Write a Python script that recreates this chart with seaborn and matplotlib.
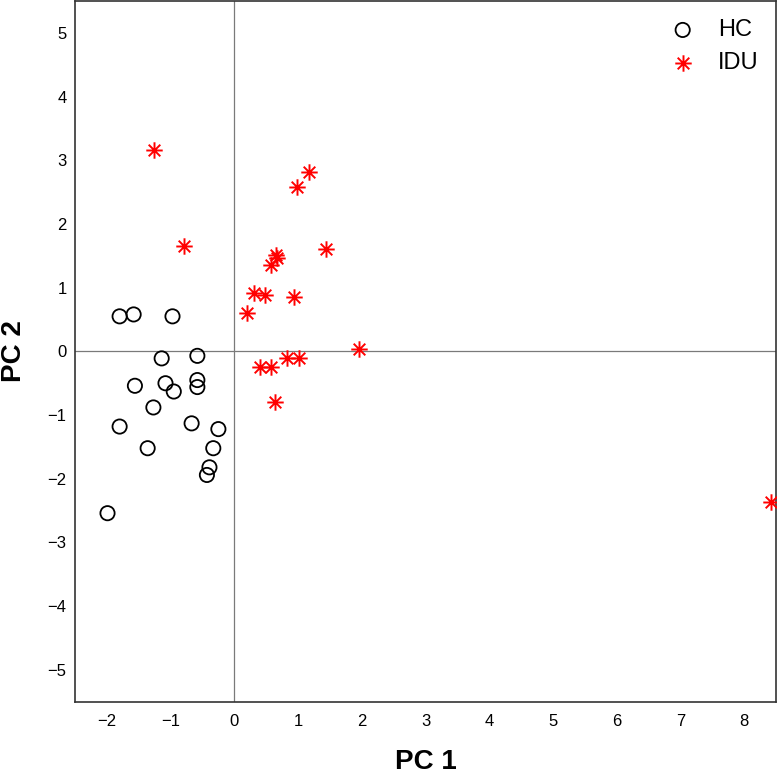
import numpy as np
import pandas as pd
import matplotlib
matplotlib.use("Agg")
import matplotlib.pyplot as plt
import seaborn as sns
from matplotlib.path import Path

# PCA scores
hc_pc1 = [-1.80, -1.58, -0.97, -1.14, -0.58, -1.56, -1.08, -0.95, -0.58, -0.58,
          -1.27, -1.80, -0.67, -0.25, -1.36, -0.33, -0.39, -0.43, -1.99]
hc_pc2 = [0.55, 0.58, 0.55, -0.11, -0.07, -0.54, -0.50, -0.63, -0.45, -0.56,
          -0.88, -1.18, -1.13, -1.22, -1.52, -1.52, -1.82, -1.94, -2.54]

idu_pc1 = [1.17, 0.98, 1.44, 0.66, 0.67, 0.58, 0.31, 0.48, 0.94, 0.20,
           1.96, 0.82, 1.02, 0.41, 0.58, 0.64, -1.26, -0.79, 8.42]
idu_pc2 = [2.81, 2.58, 1.60, 1.52, 1.47, 1.35, 0.92, 0.88, 0.86, 0.61,
           0.04, -0.11, -0.11, -0.25, -0.24, -0.79, 3.16, 1.65, -2.37]

x_ticks = [-2, -1, 0, 1, 2, 3, 4, 5, 6, 7, 8]
y_ticks = [-5, -4, -3, -2, -1, 0, 1, 2, 3, 4, 5]

hc = pd.DataFrame({"PC1": hc_pc1, "PC2": hc_pc2})
idu = pd.DataFrame({"PC1": idu_pc1, "PC2": idu_pc2})

sns.set_theme(style="white")
plt.rcParams['font.family'] = ['Liberation Sans', 'DejaVu Sans']
plt.rcParams['text.color'] = 'black'
plt.rcParams['axes.labelcolor'] = 'black'

# asterisk like R's pch=8 (plus + cross)
d = np.sqrt(0.5)
verts = [(0, -1), (0, 1), (-1, 0), (1, 0), (-d, -d), (d, d), (-d, d), (d, -d)]
codes = [Path.MOVETO, Path.LINETO] * 4
star = Path(verts, codes)

fig = plt.figure(figsize=(7.79, 7.78), dpi=100)
ax = fig.add_axes([0.0963, 0.098, 0.8997, 0.9007])

ax.axhline(0, color="#7a7a7a", lw=0.9, zorder=1)
ax.axvline(0, color="#7a7a7a", lw=0.9, zorder=1)

sns.scatterplot(data=hc, x="PC1", y="PC2", ax=ax, marker="o", s=105,
                facecolors="none", edgecolor="black", linewidth=1.3,
                label="HC", zorder=3)
sns.scatterplot(data=idu, x="PC1", y="PC2", ax=ax, marker=star, s=140,
                color="red", edgecolor="red", linewidth=1.4,
                label="IDU", zorder=3)

ax.set_xlim(-2.5, 8.5)
ax.set_ylim(-5.5, 5.5)
ax.set_xticks(x_ticks)
ax.set_yticks(y_ticks)
ax.tick_params(axis="both", length=0, labelsize=12, colors="black")
ax.tick_params(axis="x", pad=9)
ax.tick_params(axis="y", pad=6)
for sp in ax.spines.values():
    sp.set_color("#333333")
    sp.set_linewidth(1.2)

ax.set_xlabel("PC 1", fontsize=20, fontweight="bold")
ax.set_ylabel("PC 2", fontsize=20, fontweight="bold")
ax.xaxis.set_label_coords(0.5, -0.068)
ax.yaxis.set_label_coords(-0.068, 0.5)

leg = ax.legend(loc="upper right", bbox_to_anchor=(0.989, 0.9876),
                frameon=False, fontsize=17, handletextpad=0.5,
                borderaxespad=0, labelspacing=0.45)

fig.savefig("out.png", dpi=100)
